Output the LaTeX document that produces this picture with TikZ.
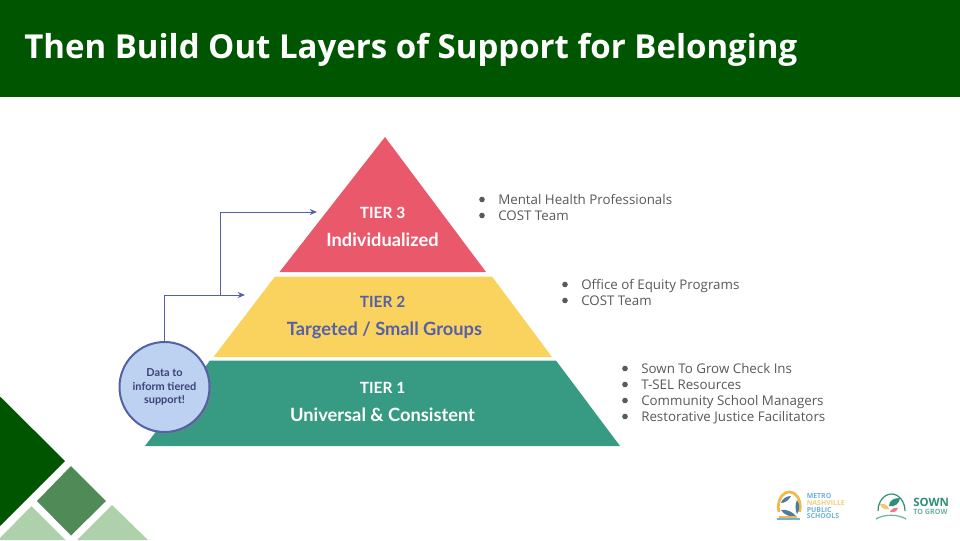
\documentclass[tikz,border=0pt]{standalone}
\usepackage{fontspec}
\setmainfont{Open Sans}
\newfontfamily\tierfont{Lato}
\usepackage{xcolor}
\usetikzlibrary{arrows.meta, shadows}
\definecolor{headgreen}{HTML}{005600}
\definecolor{midgreen}{HTML}{4F8A57}
\definecolor{palegreen}{HTML}{AED1AB}
\definecolor{tierred}{HTML}{EA586B}
\definecolor{tieryellow}{HTML}{FAD25E}
\definecolor{tiergreen}{HTML}{379A83}
\definecolor{inkblue}{HTML}{5460A8}
\definecolor{bubbleblue}{HTML}{BDD2F0}
\definecolor{bubbleink}{HTML}{3C4278}
\definecolor{listgrey}{HTML}{595959}
\definecolor{logoblue}{HTML}{6DB3DC}
\definecolor{logoorange}{HTML}{F3B84B}
\definecolor{logogreen}{HTML}{2F8F77}
\tikzset{
  tiernum/.style={text=white, font=\tierfont\fontsize{11.6}{13}\selectfont\bfseries},
  tiername/.style={text=white, font=\tierfont\fontsize{13.7}{16}\selectfont\bfseries},
  listline/.style={anchor=base west, inner sep=0pt, text=listgrey, font=\fontsize{10}{12}\selectfont},
  listdot/.style={circle, fill=listgrey, inner sep=0pt, minimum size=4.2pt},
  feedline/.style={draw=inkblue, line width=0.75pt, -{Stealth[length=5.5pt,width=4.5pt]}},
  metroline/.style={anchor=west, inner sep=0pt, font=\fontsize{5.2}{6}\selectfont\bfseries}
}
\begin{document}
\begin{tikzpicture}[x=0.75pt, y=-0.75pt]
    \useasboundingbox (0,0) rectangle (960,540);
    \fill[white] (0,0) rectangle (960,540);

    % header
    \fill[headgreen] (0,0) rectangle (960,96.5);
    \node[anchor=west, inner sep=0pt, text=white, font=\fontsize{24.75}{28}\selectfont\bfseries] (title) at (24,49.5) {Then Build Out Layers of Support for Belonging};

    % corner shapes
    \fill[headgreen] (0,396.5) -- (65,461) -- (0,526) -- cycle;
    \fill[midgreen] (71,466) -- (106,501) -- (71,535.5) -- (37,501) -- cycle;
    \fill[palegreen] (31.5,506) -- (65.5,540) -- (-2,540) -- cycle;
    \fill[palegreen] (112,505) -- (148,540) -- (77,540) -- cycle;

    % pyramid
    \fill[tierred] (385,137) -- (486,272) -- (279.5,272) -- cycle;
    \fill[tieryellow] (275,276.5) -- (492,276.5) -- (552,357) -- (213.5,357) -- cycle;
    \fill[tiergreen] (210,360.5) -- (556,360.5) -- (620,446) -- (145,446) -- cycle;

    \node[tiernum] (tierthree) at (382.5,212.5) {TIER 3};
    \node[tiername] (namethree) at (382.5,239.5) {Individualized};
    \node[tiernum, text=inkblue] (tiertwo) at (382.5,302) {TIER 2};
    \node[tiername, text=inkblue] (nametwo) at (384.5,330.5) {Targeted / Small Groups};
    \node[tiernum] (tierone) at (382.5,388) {TIER 1};
    \node[tiername] (nameone) at (382.5,414.5) {Universal \& Consistent};

    % data bubble
    \node[circle, draw=inkblue, line width=1.5pt, fill=bubbleblue, minimum size=90pt*0.75, inner sep=0pt,
      drop shadow={shadow xshift=1.5pt, shadow yshift=-1.5pt, opacity=0.35},
      align=center, text=bubbleink, font=\tierfont\fontsize{8.2}{9.8}\selectfont\bfseries] (data) at (164.5,387) {Data to\\inform tiered\\support!};

    % arrows
    \coordinate (arrowtwo) at (245,295);
    \coordinate (branch) at (220,295);
    \coordinate (arrowthree) at (317,212);
    \draw[feedline] (data.north) |- (arrowtwo);
    \draw[feedline] (branch) |- (arrowthree);

    % lists
    \node[listdot] (dotthreea) at (482,199.5) {};
    \node[listline] (linethreea) at (498,204.2) {Mental Health Professionals};
    \node[listdot] (dotthreeb) at (482,215.5) {};
    \node[listline] (linethreeb) at (498,220.2) {COST Team};

    \node[listdot] (dottwoa) at (565,284.5) {};
    \node[listline] (linetwoa) at (581,289) {Office of Equity Programs};
    \node[listdot] (dottwob) at (565,300.5) {};
    \node[listline] (linetwob) at (581,305) {COST Team};

    \node[listdot] (dotonea) at (625,368.5) {};
    \node[listline] (lineonea) at (641,373.2) {Sown To Grow Check Ins};
    \node[listdot] (dotoneb) at (625,384.5) {};
    \node[listline] (lineoneb) at (641,389.2) {T-SEL Resources};
    \node[listdot] (dotonec) at (625,400.5) {};
    \node[listline] (lineonec) at (641,405.2) {Community School Managers};
    \node[listdot] (dotoned) at (625,416.5) {};
    \node[listline] (lineoned) at (641,421.2) {Restorative Justice Facilitators};

    % metro logo
    \draw[logoorange, line width=2pt] (779,512) arc[start angle=200, end angle=-20, x radius=11, y radius=-15];
    \fill[logoblue!70!black] (781,510) .. controls (787,509) and (793,512) .. (797,517) .. controls (790,517) and (784,515) .. (781,510) -- cycle;
    \fill[logoblue!70!black] (797,500) .. controls (800,504) and (800,510) .. (797,514) .. controls (795,510) and (795,504) .. (797,500) -- cycle;
    \fill[logoblue!70!black] (781,503) .. controls (785,503) and (789,500) .. (791,496) .. controls (786,496) and (782,499) .. (781,503) -- cycle;
    \fill[logoorange] (779,516) rectangle (797,518);
    \fill[logoblue] (777,518) rectangle (800,519.5);
    \node[metroline, text=logoblue] (metroa) at (806.5,496) {METRO};
    \node[metroline, text=logoorange!70] (metrob) at (806.5,503) {NASHVILLE};
    \node[metroline, text=logoblue] (metroc) at (806.5,510) {PUBLIC};
    \node[metroline, text=logoblue] (metrod) at (806.5,516.5) {SCHOOLS};

    % sown logo
    \draw[logogreen, line width=0.9pt] (878,511) arc[start angle=180, end angle=0, x radius=13.5, y radius=-17];
    \draw[logogreen!70, line width=0.9pt] (876,519) .. controls (884,514) and (898,514) .. (906,519);
    \fill[logogreen] (889,506) .. controls (889,500) and (894,498) .. (900,498) .. controls (899,504) and (895,507) .. (889,506) -- cycle;
    \fill[logoorange!80] (880,504) .. controls (884,503) and (888,505) .. (889,509) .. controls (885,510) and (881,508) .. (880,504) -- cycle;
    \fill[tierred!80] (890,512) .. controls (891,509) and (895,507) .. (898,508) .. controls (897,511) and (894,513) .. (890,512) -- cycle;
    \node[anchor=west, inner sep=0pt, text=logogreen, font=\fontsize{8.6}{9}\selectfont\bfseries] (sowna) at (913,502.5) {SOWN};
    \node[anchor=west, inner sep=0pt, text=logogreen!70, font=\fontsize{5.4}{6}\selectfont\bfseries] (sownb) at (913,512) {TO GROW};
\end{tikzpicture}
\end{document}
